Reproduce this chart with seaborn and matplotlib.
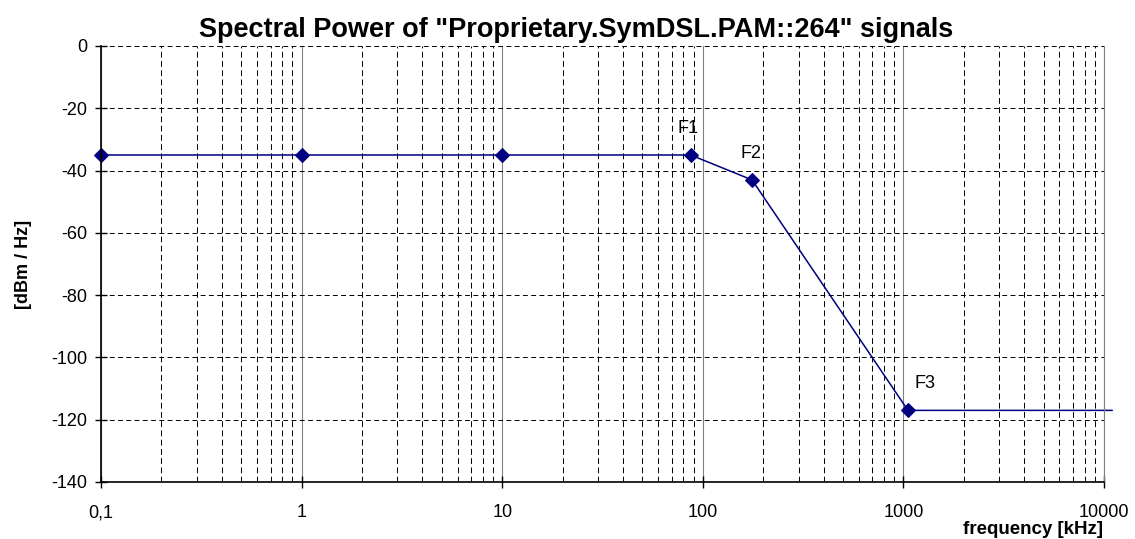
import numpy as np
import pandas as pd
import matplotlib
matplotlib.use('Agg')
import matplotlib.pyplot as plt
import seaborn as sns
from matplotlib.ticker import LogLocator, FixedLocator, NullFormatter

freq_khz = [0.1, 1, 10, 87, 176, 1054, 11000]
power_dbm = [-35, -35, -35, -35, -43, -117, -117]
point_labels = ['', '', '', 'F1', 'F2', 'F3', '']
label_offsets = [(0, 0), (0, 0), (0, 0), (-2, 13), (-1, 13), (12, 13), (0, 0)]
x_ticks = [0.1, 1, 10, 100, 1000, 10000]
x_tick_labels = ['0,1', '1', '10', '100', '1000', '10000']
y_ticks = [0, -20, -40, -60, -80, -100, -120, -140]

sns.set_theme(style='white')
plt.rcParams['font.family'] = ['Liberation Sans', 'DejaVu Sans']
plt.rcParams['axes.unicode_minus'] = False
plt.rcParams['text.color'] = 'black'
plt.rcParams['axes.labelcolor'] = 'black'

df = pd.DataFrame({'freq': freq_khz, 'power': power_dbm})

fig = plt.figure(figsize=(11.35, 5.39), dpi=100)
ax = fig.add_axes([101 / 1135, 1 - 482 / 539, (1104 - 101) / 1135, (482 - 46) / 539])

ax.set_xscale('log')
ax.set_xlim(0.1, 10000)
ax.set_ylim(-140, 0)

# grid
ax.xaxis.set_minor_locator(LogLocator(base=10, subs=np.arange(2, 10)))
ax.xaxis.set_minor_formatter(NullFormatter())
ax.grid(which='minor', axis='x', color='black', linestyle=(0, (6, 3.5)), linewidth=0.7)
ax.grid(which='major', axis='x', color='#808080', linestyle='-', linewidth=0.8)
ax.grid(which='major', axis='y', color='black', linestyle=(0, (5, 3.5)), linewidth=0.7)
ax.set_axisbelow(True)

sns.lineplot(data=df, x='freq', y='power', ax=ax, color='#000080', linewidth=1.1,
             marker='D', markersize=7, markeredgecolor='#000080',
             markevery=[0, 1, 2, 3, 4, 5], clip_on=False, sort=False)

for f, p, lab, off in zip(freq_khz, power_dbm, point_labels, label_offsets):
    if lab:
        ax.annotate(lab, (f, p), xytext=off, textcoords='offset points',
                    ha='center', va='bottom', fontsize=13)

ax.xaxis.set_major_locator(FixedLocator(x_ticks))
ax.set_xticklabels(x_tick_labels)
ax.set_yticks(y_ticks)

ax.tick_params(axis='both', which='major', direction='inout', length=8, width=1,
               labelsize=13, colors='black', bottom=True, left=True)
ax.tick_params(axis='x', which='major', pad=12)
ax.tick_params(axis='y', which='major', pad=6)
ax.tick_params(axis='x', which='minor', bottom=False)

ax.spines['top'].set_visible(False)
ax.spines['right'].set_color('#808080')
ax.spines['right'].set_linewidth(0.8)
ax.spines['left'].set_color('black')
ax.spines['bottom'].set_color('black')
ax.spines['left'].set_linewidth(1.2)
ax.spines['bottom'].set_linewidth(1.2)

fig.text(576 / 1135, 1 - 37 / 539, 'Spectral Power of "Proprietary.SymDSL.PAM::264" signals',
         ha='center', va='baseline', fontsize=19.5, fontweight='bold')
ax.set_ylabel('[dBm / Hz]', fontsize=13, fontweight='bold', labelpad=14)
ax.set_xlabel('')
fig.text(1103 / 1135, 1 - 534 / 539, 'frequency [kHz]', ha='right', va='baseline',
         fontsize=13.5, fontweight='bold')

fig.savefig('out.png', dpi=100)
